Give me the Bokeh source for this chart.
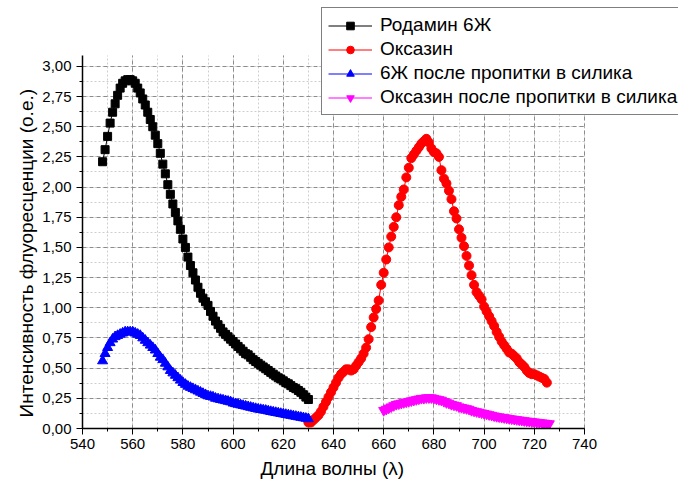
from bokeh.plotting import figure
from bokeh.models import (Range1d, SingleIntervalTicker, CustomJSTickFormatter,
                          Legend, LegendItem, Title)
from bokeh.embed import file_html
from bokeh.resources import INLINE

# Wavelengths (nm)
wl_rhod = list(range(548, 631))
wl_osc = list(range(630, 726))
wl_osc_sil = list(range(660, 727))

# Rhodamine 6G
rhod = [2.21, 2.31, 2.42, 2.53, 2.62, 2.69, 2.76, 2.82, 2.86, 2.88,
        2.89, 2.89, 2.88, 2.86, 2.82, 2.78, 2.73, 2.68, 2.62, 2.56,
        2.50, 2.43, 2.36, 2.28, 2.19, 2.11, 2.02, 1.94, 1.86, 1.79,
        1.72, 1.65, 1.57, 1.50, 1.42, 1.35, 1.29, 1.23, 1.17, 1.12,
        1.08, 1.05, 1.02, 0.97, 0.93, 0.89, 0.86, 0.83, 0.80, 0.78,
        0.76, 0.74, 0.72, 0.70, 0.68, 0.66, 0.64, 0.62, 0.61, 0.59,
        0.57, 0.555, 0.54, 0.525, 0.51, 0.495, 0.48, 0.465, 0.45, 0.435,
        0.42, 0.41, 0.395, 0.38, 0.37, 0.355, 0.34, 0.33, 0.315, 0.30,
        0.28, 0.26, 0.24]

# Oxazine
osc = [0.05, 0.05, 0.07, 0.09, 0.11, 0.14, 0.18, 0.22, 0.26, 0.30,
       0.34, 0.38, 0.42, 0.45, 0.47, 0.49, 0.49, 0.48, 0.49, 0.52,
       0.55, 0.58, 0.62, 0.67, 0.74, 0.84, 0.92, 0.99, 1.06, 1.19,
       1.29, 1.40, 1.50, 1.59, 1.67, 1.75, 1.85, 1.92, 1.98, 2.08,
       2.16, 2.24, 2.27, 2.30, 2.33, 2.36, 2.38, 2.40, 2.37, 2.32,
       2.29, 2.28, 2.25, 2.14, 2.07, 2.03, 1.97, 1.90, 1.80, 1.74,
       1.65, 1.58, 1.51, 1.43, 1.35, 1.27, 1.19, 1.13, 1.10, 1.07,
       1.01, 0.97, 0.93, 0.89, 0.85, 0.80, 0.76, 0.72, 0.69, 0.66,
       0.63, 0.62, 0.60, 0.58, 0.55, 0.53, 0.51, 0.48, 0.46, 0.45,
       0.45, 0.44, 0.43, 0.42, 0.41, 0.38]

# Rhodamine 6G after silica impregnation
rhod_sil = [0.56, 0.62, 0.67, 0.71, 0.74, 0.76, 0.77, 0.78, 0.79, 0.80,
            0.80, 0.80, 0.80, 0.79, 0.78, 0.77, 0.75, 0.73, 0.71, 0.69,
            0.67, 0.65, 0.62, 0.59, 0.57, 0.54, 0.51, 0.48, 0.46, 0.44,
            0.42, 0.40, 0.38, 0.365, 0.35, 0.34, 0.33, 0.32, 0.31, 0.30,
            0.29, 0.28, 0.27, 0.265, 0.26, 0.25, 0.245, 0.24, 0.235, 0.23,
            0.225, 0.22, 0.21, 0.205, 0.20, 0.195, 0.19, 0.185, 0.18, 0.175,
            0.17, 0.165, 0.16, 0.157, 0.153, 0.15, 0.145, 0.14, 0.136, 0.132,
            0.128, 0.124, 0.12, 0.116, 0.112, 0.108, 0.104, 0.10, 0.096, 0.092,
            0.088, 0.084, 0.08]

# Oxazine after silica impregnation
osc_sil = [0.15, 0.16, 0.17, 0.18, 0.19, 0.20, 0.205, 0.21, 0.215, 0.22,
           0.225, 0.23, 0.235, 0.24, 0.245, 0.25, 0.25, 0.255, 0.255, 0.255,
           0.25, 0.245, 0.24, 0.235, 0.225, 0.215, 0.21, 0.20, 0.195, 0.19,
           0.18, 0.175, 0.17, 0.165, 0.16, 0.15, 0.145, 0.14, 0.135, 0.13,
           0.125, 0.12, 0.115, 0.11, 0.105, 0.10, 0.097, 0.093, 0.09, 0.087,
           0.083, 0.08, 0.077, 0.074, 0.071, 0.068, 0.065, 0.062, 0.06, 0.057,
           0.055, 0.052, 0.05, 0.047, 0.045, 0.042, 0.04]

labels = ["Родамин 6Ж", "Оксазин", "6Ж после пропитки в силика",
          "Оксазин после пропитки в силика"]

X_AXIS = (540, 740)
Y_AXIS = (0, 3.09)

FONT = "Liberation Sans"

# The drawing area runs to the right and top edges of the page so the legend
# can sit across the upper-right corner; the axes and grid stay within the
# data bounds.
p = figure(width=678, height=486, output_backend="svg", toolbar_location=None,
           x_range=Range1d(540, 777.45), y_range=Range1d(0, 3.5457),
           min_border_left=82, min_border_right=0, min_border_top=0,
           min_border_bottom=58)
p.outline_line_color = None
p.background_fill_color = "white"
p.border_fill_color = "white"

# Axes
p.xaxis.ticker = SingleIntervalTicker(interval=20, num_minor_ticks=2)
p.yaxis.ticker = SingleIntervalTicker(interval=0.25, num_minor_ticks=2)
p.xaxis.bounds = X_AXIS
p.yaxis.bounds = Y_AXIS
p.yaxis.formatter = CustomJSTickFormatter(code="return tick.toFixed(2).replace('.', ',');")
p.xaxis.formatter = CustomJSTickFormatter(code="return tick.toFixed(0);")
for ax in (p.xaxis, p.yaxis):
    ax.axis_line_color = "black"
    ax.axis_line_width = 1.5
    ax.major_tick_line_color = "black"
    ax.minor_tick_line_color = "black"
    ax.major_tick_in = 0
    ax.major_tick_out = 6
    ax.minor_tick_in = 0
    ax.minor_tick_out = 3
    ax.major_label_text_font = FONT
    ax.major_label_text_font_size = "15px"
    ax.major_label_text_color = "black"
p.xaxis.major_label_standoff = 4
p.yaxis.major_label_standoff = 5

# Axis titles, positioned along the axis spans rather than the whole frame
x_title = Title(text="Длина волны (λ)", align="left", offset=178,
                text_font=FONT, text_font_size="19px", text_font_style="normal",
                text_color="black", standoff=9)
y_title = Title(text="Интенсивность флуоресценции (о.е.)", align="left", offset=11,
                text_font=FONT, text_font_size="19px", text_font_style="normal",
                text_color="black", standoff=6)
p.add_layout(x_title, "below")
p.add_layout(y_title, "left")

# Grid
p.xgrid.bounds = X_AXIS
p.xgrid.cross_bounds = Y_AXIS
p.ygrid.bounds = Y_AXIS
p.ygrid.cross_bounds = X_AXIS
for g in (p.xgrid, p.ygrid):
    g.grid_line_color = "#8c8c8c"
    g.grid_line_dash = "4 3"
    g.grid_line_width = 1
    g.minor_grid_line_color = "#cfcfcf"
    g.minor_grid_line_dash = "2 2"

# Series
series = [
    (wl_rhod, rhod, "black", "square", 8),
    (wl_osc, osc, "red", "circle", 9),
    (wl_rhod, rhod_sil, "blue", "triangle", 10),
    (wl_osc_sil, osc_sil, "magenta", "inverted_triangle", 10),
]
items = []
for (xs, ys, col, mk, sz), lab in zip(series, labels):
    ln = p.line(xs, ys, line_color=col, line_width=1)
    sc = p.scatter(xs, ys, marker=mk, size=sz, fill_color=col, line_color=col)
    items.append(LegendItem(label=lab, renderers=[ln, sc]))

legend = Legend(items=items, location=(239, 313), orientation="vertical",
                padding=6, spacing=2, margin=0,
                glyph_width=44, glyph_height=19, label_height=19,
                label_standoff=8,
                label_text_font=FONT, label_text_font_size="19px",
                label_text_color="black",
                border_line_color="black", border_line_width=1,
                background_fill_color="white", background_fill_alpha=1)
p.add_layout(legend, "center")

open("out.html", "w").write(file_html(p, INLINE))
